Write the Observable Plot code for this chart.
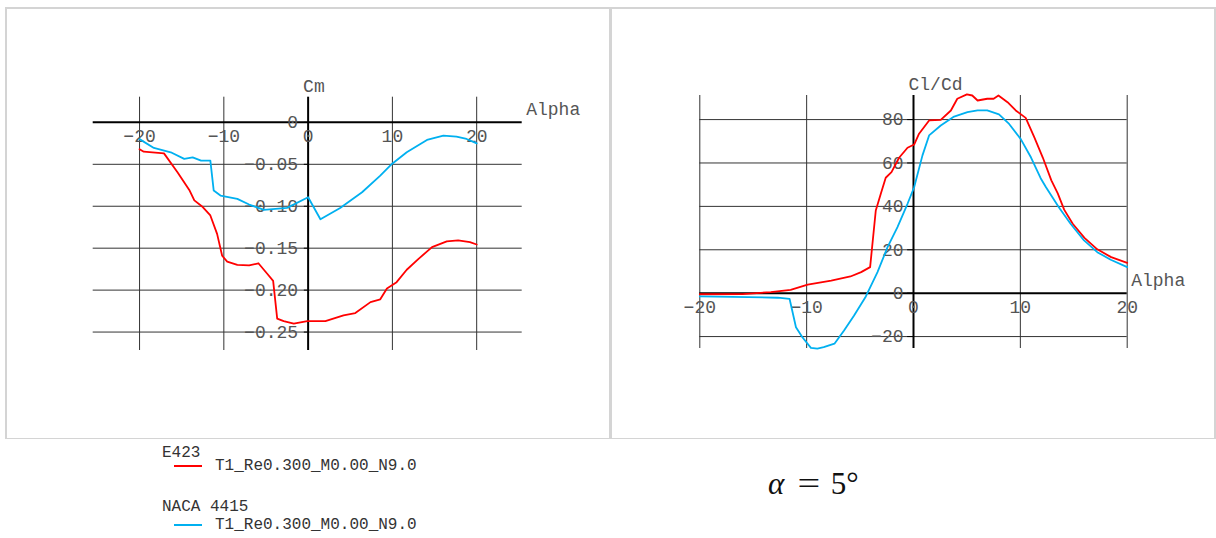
<!DOCTYPE html>
<html>
<head>
<meta charset="utf-8">
<script src="https://cdn.jsdelivr.net/npm/d3@7"></script>
<script src="https://cdn.jsdelivr.net/npm/@observablehq/plot@0.6"></script>
<style>
  html, body { margin: 0; padding: 0; background: #fff; }
  #root { position: relative; width: 1216px; height: 538px; overflow: hidden; font-family: 'Liberation Mono', monospace; }
  .abs { position: absolute; }
  .leg { position: absolute; font-size: 16px; color: #333; white-space: nowrap; line-height: 12px; }
  .sw { position: absolute; height: 2px; }
</style>
</head>
<body>
<div id="root"></div>
<script>
// ---------- Data ----------
const e423CmAlpha = [-20, -19.5, -17.1, -15.5, -14.1, -13.5, -12.5, -11.6, -10.8, -10.2, -9.6, -8.4, -7.0, -5.9, -4.85, -4.15, -3.67, -2.9, -1.7, -0.1, 2.05, 4.2, 5.6, 7.4, 8.56, 9.35, 10.5, 11.7, 13.1, 14.7, 16.45, 17.8, 19.2, 20];
const e423Cm = [-0.032, -0.035, -0.037, -0.0595, -0.0805, -0.093, -0.101, -0.111, -0.133, -0.159, -0.166, -0.170, -0.1706, -0.168, -0.1805, -0.189, -0.234, -0.237, -0.240, -0.237, -0.237, -0.230, -0.2274, -0.2143, -0.211, -0.198, -0.1905, -0.1757, -0.1627, -0.1488, -0.142, -0.1408, -0.1429, -0.1456];

const nacaCmAlpha = [-20, -18.3, -16.3, -14.7, -13.7, -12.7, -11.6, -11.2, -10.4, -8.4, -7.0, -5.25, -2.5, 0, 1.46, 3.8, 6.4, 8.56, 9.94, 11.7, 14.1, 16.05, 17.6, 18.8, 20];
const nacaCm = [-0.020, -0.0305, -0.0357, -0.0436, -0.0417, -0.0456, -0.0456, -0.0813, -0.0873, -0.0912, -0.098, -0.1043, -0.102, -0.0893, -0.1155, -0.102, -0.0833, -0.0635, -0.0496, -0.0357, -0.021, -0.0158, -0.017, -0.0198, -0.025];

const e423ClCdAlpha = [-20, -16, -13.35, -11.5, -9.9, -7.7, -5.9, -4.9, -4.06, -3.53, -3.06, -2.6, -2.06, -1.35, -0.56, 0.06, 0.52, 1.46, 2.55, 3.5, 4.1, 5.0, 5.5, 6.0, 6.9, 7.5, 7.95, 8.8, 9.57, 10.5, 11.3, 12.1, 12.9, 13.5, 14.1, 14.9, 16.0, 17.2, 18.5, 20];
const e423ClCd = [-0.5, -0.4, 0.5, 1.5, 3.9, 5.8, 7.7, 9.7, 12, 38.1, 45.8, 53.2, 55.8, 62.4, 67, 68.5, 73.5, 79.6, 79.9, 84.2, 89.6, 91.6, 91.1, 88.8, 89.6, 89.6, 91.1, 88, 84.2, 80.8, 71.9, 62.5, 52, 46, 38.5, 32, 25.5, 20.2, 16.6, 14];

const nacaClCdAlpha = [-20, -15.5, -12.7, -11.6, -11.0, -10.4, -9.6, -9.0, -8.4, -7.4, -6.5, -5.56, -4.46, -3.37, -2.43, -1.5, -0.56, 0.06, 0.84, 1.46, 2.55, 3.8, 5.05, 6.0, 6.9, 8.0, 8.95, 10.04, 11.0, 11.9, 12.4, 13.6, 14.7, 15.96, 17.2, 18.46, 20];
const nacaClCd = [-1.5, -1.8, -2.1, -2.6, -15.7, -20.3, -25.2, -25.6, -24.9, -23.3, -17.2, -10.3, -1.5, 9.7, 21.2, 30.4, 41.2, 48.8, 63.5, 72.7, 77.3, 81.4, 83.4, 84.2, 84.2, 82.4, 78, 71, 62.5, 53, 48.8, 39.6, 32, 24.3, 18.9, 15.4, 12];

const alphaTicks = [-20, -10, 0, 10, 20];
const alphaTickLabels = ["\u221220", "\u221210", "0", "10", "20"];
const cmTicks = [0, -0.05, -0.10, -0.15, -0.20, -0.25];
const cmTickLabels = ["0", "\u22120.05", "\u22120.10", "\u22120.15", "\u22120.20", "\u22120.25"];
const clcdTicks = [80, 60, 40, 20, 0, -20];
const clcdTickLabels = ["80", "60", "40", "20", "0", "\u221220"];

const seriesNames = ["E423", "NACA 4415"];
const seriesRun = "T1_Re0.300_M0.00_N9.0";
const seriesColors = ["#ff0000", "#00b0f0"];

const zip = (xs, ys) => xs.map((x, i) => ({x, y: ys[i]}));

// ---------- Layout ----------
const root = document.getElementById("root");
function addDiv(cls, css, html) {
  const d = document.createElement("div");
  d.className = cls;
  d.style.cssText = css;
  if (html != null) d.innerHTML = html;
  root.appendChild(d);
  return d;
}
// panel frame
addDiv("abs", "left:5px;top:7px;width:1207px;height:429px;border:2px solid #d4d4d4;border-bottom-width:1px;");
addDiv("abs", "left:609px;top:7px;width:3px;height:431px;background:#d4d4d4;");

const textColor = "#555";
const gridColor = "#333";

function makeChart({left, width, height, mL, mR, mT, mB, xDomain, yDomain, series, yTicks, yTickLabels, yLabel, tickLen}) {
  const marks = [
    Plot.ruleY(yTicks.filter(d => d !== 0), {stroke: gridColor, strokeWidth: 1}),
    Plot.ruleX(alphaTicks.filter(d => d !== 0), {stroke: gridColor, strokeWidth: 1}),
    Plot.ruleY([0], {stroke: "#000", strokeWidth: 2}),
    Plot.ruleX([0], {stroke: "#000", strokeWidth: 2}),
    Plot.ruleY(yTicks, {x1: -tickLen, x2: 0, stroke: "#000", strokeWidth: 1}),
    Plot.text(alphaTicks, {x: d => d, y: () => 0, text: (d, i) => alphaTickLabels[i], dy: 14, fill: textColor, textAnchor: "middle"}),
    Plot.text(yTicks, {x: () => 0, y: d => d, text: (d, i) => yTickLabels[i], dx: -10, fill: textColor, textAnchor: "end"}),
    Plot.text([yLabel], {x: () => 0, y: () => yDomain[1], text: d => d, dx: -5, dy: -11, fill: textColor, textAnchor: "start"}),
    Plot.text(["Alpha"], {x: () => xDomain[1], y: () => 0, text: d => d, dx: 4, dy: -13, fill: textColor, textAnchor: "start"}),
    ...series.map((s, i) => Plot.line(s, {x: "x", y: "y", stroke: seriesColors[i], strokeWidth: 1.8}))
  ];
  const svg = Plot.plot({
    width, height,
    marginLeft: mL, marginRight: mR, marginTop: mT, marginBottom: mB,
    x: {domain: xDomain, axis: null},
    y: {domain: yDomain, axis: null},
    style: {fontFamily: "'Liberation Mono', monospace", fontSize: "18px", background: "transparent", overflow: "visible"},
    marks
  });
  svg.style.position = "absolute";
  svg.style.left = left + "px";
  svg.style.top = "0px";
  root.appendChild(svg);
}

makeChart({
  left: 0, width: 610, height: 440,
  mL: 92.7, mR: 88.3, mT: 96.7, mB: 90,
  xDomain: [-25.5, 25.4], yDomain: [-0.272, 0.03],
  series: [zip(e423CmAlpha, e423Cm), zip(nacaCmAlpha, nacaCm)],
  yTicks: cmTicks, yTickLabels: cmTickLabels, yLabel: "Cm", tickLen: 0.45
});

makeChart({
  left: 611, width: 605, height: 440,
  mL: 88.3, mR: 89.3, mT: 95, mB: 92,
  xDomain: [-20, 20], yDomain: [-25.5, 91.1],
  series: [zip(e423ClCdAlpha, e423ClCd), zip(nacaClCdAlpha, nacaClCd)],
  yTicks: clcdTicks, yTickLabels: clcdTickLabels, yLabel: "Cl/Cd", tickLen: 0.55
});

// ---------- Legend ----------
seriesNames.forEach((name, i) => {
  const top = i === 0 ? 447 : 501;
  const runTop = i === 0 ? 460 : 519;
  addDiv("leg", `left:162px;top:${top}px;`, name);
  addDiv("sw", `left:174px;top:${runTop + 5}px;width:28px;background:${seriesColors[i]};`);
  addDiv("leg", `left:215px;top:${runTop}px;`, seriesRun);
});

// ---------- Annotation ----------
addDiv("abs", "left:768px;top:467px;font-family:'Liberation Serif',serif;font-size:31px;color:#111;white-space:nowrap;line-height:34px;",
  "<i>\u03b1</i><span style='margin-left:16px;margin-right:5px;display:inline-block;transform:scaleX(1.3)'>=</span><span style='margin-left:8px'>5\u00b0</span>");
</script>
</body>
</html>
